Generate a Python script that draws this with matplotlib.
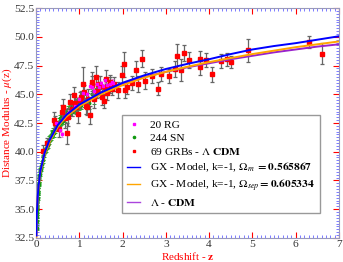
import matplotlib
matplotlib.use("Agg")
from matplotlib import pyplot as plt
from matplotlib.ticker import MultipleLocator

plt.rcParams['font.family'] = ['Liberation Serif', 'DejaVu Serif']
plt.rcParams['mathtext.fontset'] = 'stix'

# model curves
z_model = [0.008, 0.02, 0.05, 0.1, 0.2, 0.3, 0.5, 0.7, 1.0, 1.5, 2.0, 2.5, 3.0,
           3.5, 4.0, 4.5, 5.0, 5.5, 6.0, 6.5, 7.0]
mu_gx_m = [32.7, 34.7, 36.7, 38.3, 39.9, 40.9, 42.3, 43.2, 44.1, 45.15, 46.0,
           46.65, 47.2, 47.65, 48.05, 48.5, 48.9, 49.2, 49.45, 49.75, 50.05]
mu_gx_sep = [32.6, 34.55, 36.55, 38.15, 39.75, 40.75, 42.15, 43.05, 43.95, 45.0,
             45.8, 46.45, 46.95, 47.4, 47.8, 48.15, 48.5, 48.8, 49.1, 49.35, 49.6]
mu_lcdm = [32.7, 34.7, 36.7, 38.3, 39.9, 40.9, 42.3, 43.2, 44.1, 45.15, 45.9,
           46.5, 46.95, 47.35, 47.7, 48.05, 48.35, 48.65, 48.9, 49.15, 49.35]

# 244 SN (a readable subset)
z_sn = [0.012, 0.015, 0.018, 0.02, 0.022, 0.025, 0.028, 0.03, 0.033, 0.036,
        0.04, 0.043, 0.047, 0.05, 0.055, 0.06, 0.065, 0.07, 0.08, 0.09,
        0.1, 0.11, 0.12, 0.13, 0.15, 0.17, 0.19, 0.21, 0.23, 0.25,
        0.27, 0.28, 0.3, 0.31, 0.33, 0.35, 0.36, 0.38, 0.4, 0.41,
        0.43, 0.45, 0.46, 0.48, 0.5, 0.51, 0.53, 0.55, 0.56, 0.58,
        0.6, 0.61, 0.63, 0.65, 0.66, 0.68, 0.7, 0.72, 0.74, 0.76,
        0.78, 0.8, 0.82, 0.84, 0.86, 0.88, 0.9, 0.92, 0.95, 0.97,
        1.0, 1.02, 1.05, 1.08, 1.12, 1.15, 1.2, 1.23, 1.3, 1.34, 1.39]
mu_sn = [33.4, 34.0, 34.3, 34.7, 34.9, 35.1, 35.4, 35.6, 35.7, 36.0,
         36.3, 36.4, 36.6, 36.8, 37.0, 37.2, 37.3, 37.6, 37.9, 38.1,
         38.4, 38.5, 38.8, 38.9, 39.3, 39.5, 39.8, 40.1, 40.2, 40.5,
         40.6, 40.8, 40.9, 41.1, 41.2, 41.3, 41.6, 41.5, 41.8, 41.6,
         42.1, 41.9, 42.3, 42.1, 42.4, 42.2, 42.6, 42.5, 42.9, 42.6,
         42.9, 43.1, 42.7, 43.1, 43.3, 42.9, 43.4, 43.2, 43.6, 43.3,
         43.7, 43.5, 43.9, 43.5, 43.8, 44.1, 43.7, 44.2, 43.9, 44.3,
         44.0, 44.4, 44.1, 44.6, 44.3, 44.5, 44.7, 44.2, 45.0, 44.6, 45.1]
err_sn = [0.2, 0.2, 0.2, 0.2, 0.2, 0.2, 0.2, 0.2, 0.2, 0.2,
          0.2, 0.2, 0.2, 0.2, 0.2, 0.2, 0.2, 0.2, 0.2, 0.2,
          0.2, 0.2, 0.25, 0.25, 0.25, 0.25, 0.25, 0.25, 0.25, 0.25,
          0.25, 0.25, 0.25, 0.25, 0.25, 0.25, 0.25, 0.3, 0.3, 0.3,
          0.3, 0.3, 0.3, 0.3, 0.3, 0.3, 0.3, 0.3, 0.3, 0.3,
          0.3, 0.3, 0.3, 0.3, 0.3, 0.3, 0.35, 0.35, 0.35, 0.35,
          0.35, 0.35, 0.35, 0.35, 0.35, 0.35, 0.35, 0.35, 0.4, 0.4,
          0.4, 0.4, 0.4, 0.4, 0.4, 0.4, 0.45, 0.45, 0.45, 0.45, 0.45]

# 20 RG
z_rg = [0.46, 0.55, 0.59, 0.75, 0.9, 1.0, 1.09, 1.18, 1.25, 1.29,
        1.35, 1.4, 1.45, 1.5, 1.55, 1.59, 1.65, 1.7, 1.75, 1.79]
mu_rg = [42.5, 41.9, 41.5, 43.4, 44.0, 44.6, 45.1, 45.0, 45.75, 45.66,
         45.3, 45.9, 45.6, 46.0, 45.7, 46.24, 45.8, 45.9, 46.1, 46.0]
err_rg = [0.2, 0.2, 0.2, 0.2, 0.2, 0.2, 0.2, 0.2, 0.2, 0.2,
          0.2, 0.2, 0.2, 0.2, 0.2, 0.3, 0.2, 0.2, 0.2, 0.3]

# 69 GRBs
z_grb = [0.17, 0.25, 0.42, 0.45, 0.6, 0.67, 0.72, 0.79, 0.83, 0.9,
         0.98, 1.05, 1.09, 1.15, 1.2, 1.25, 1.29, 1.3, 1.35, 1.4,
         1.44, 1.48, 1.52, 1.57, 1.62, 1.65, 1.7, 1.76, 1.8, 1.9,
         1.98, 2.03, 2.06, 2.11, 2.21, 2.31, 2.36, 2.46, 2.51, 2.67,
         2.82, 2.9, 3.08, 3.21, 3.25, 3.36, 3.42, 3.53, 3.79, 3.8,
         3.94, 4.06, 4.28, 4.42, 4.5, 4.9, 6.3, 6.61, 0.52, 0.63,
         0.75, 0.87, 0.93, 1.02, 1.12, 1.18, 1.38, 1.6, 1.72]
mu_grb = [40.1, 40.8, 42.8, 42.5, 43.5, 42.9, 41.6, 44.35, 43.7, 44.2,
          43.3, 44.8, 45.9, 44.0, 44.6, 43.2, 45.8, 46.1, 44.6, 45.3,
          45.9, 45.7, 44.8, 44.4, 46.3, 45.1, 45.8, 45.5, 45.9, 45.4,
          46.65, 47.6, 45.4, 45.6, 45.95, 47.1, 45.9, 48.1, 46.2, 46.6,
          45.5, 46.8, 46.6, 47.2, 48.3, 47.1, 48.6, 48.0, 48.1, 47.4,
          48.0, 46.75, 47.9, 48.05, 47.8, 48.85, 49.55, 48.55, 42.0, 43.9,
          43.0, 44.9, 43.9, 44.5, 45.2, 43.9, 46.5, 45.6, 46.1]
err_grb = [0.45, 0.4, 0.7, 0.6, 0.6, 0.8, 0.9, 0.7, 0.6, 0.6,
           0.8, 0.5, 1.5, 0.7, 0.9, 0.8, 0.8, 0.8, 0.8, 0.6,
           0.7, 0.9, 0.7, 0.6, 0.8, 0.6, 0.7, 0.6, 0.6, 0.7,
           0.8, 1.1, 0.7, 0.6, 0.6, 0.8, 0.7, 0.75, 0.7, 0.6,
           0.6, 0.6, 0.6, 0.7, 1.1, 0.95, 0.7, 0.7, 0.7, 0.7,
           0.6, 0.65, 0.6, 0.55, 0.5, 1.0, 0.55, 0.9, 0.7, 0.7,
           0.8, 0.7, 0.6, 0.7, 0.6, 0.7, 1.0, 0.7, 0.6]

fig = plt.figure(figsize=(3.43, 2.62), dpi=100)
ax = fig.add_axes([0.105, 0.092, 0.883, 0.877])

ax.errorbar(z_sn, mu_sn, yerr=err_sn, fmt='o', color='#119911', ms=1.8,
            ecolor='#33aa33', elinewidth=0.7, capsize=1.2, capthick=0.7, zorder=2)
ax.errorbar(z_grb, mu_grb, yerr=err_grb, fmt='s', color='red', ms=3,
            ecolor='#666666', elinewidth=0.9, capsize=1.6, capthick=0.9, zorder=3)
ax.errorbar(z_rg, mu_rg, yerr=err_rg, fmt='s', color='magenta', ms=2,
            ecolor='#dd77dd', elinewidth=0.5, capsize=0.8, capthick=0.5, zorder=3)

ax.plot(z_model, mu_lcdm, color='#9922cc', lw=1.4, zorder=4)
ax.plot(z_model, mu_gx_sep, color='orange', lw=1.4, zorder=4)
ax.plot(z_model, mu_gx_m, color='blue', lw=1.4, zorder=4)

# legend handles
h_rg, = ax.plot([], [], 's', color='magenta', ms=2)
h_sn, = ax.plot([], [], 'o', color='#119911', ms=1.6)
h_grb, = ax.plot([], [], 's', color='red', ms=2)
h_m, = ax.plot([], [], color='blue', lw=1)
h_sep, = ax.plot([], [], color='orange', lw=1)
h_l, = ax.plot([], [], color='#aa44dd', lw=1)
leg = ax.legend([h_rg, h_sn, h_grb, h_m, h_sep, h_l],
                ['20 RG', '244 SN', r'69 GRBs - $\Lambda$ $\mathbf{CDM}$',
                 r'GX - Model, k=-1, $\Omega_{m}$$\mathbf{\ = 0.565867}$',
                 r'GX - Model, k=-1, $\Omega_{sep}$$\mathbf{= 0.605334}$',
                 r'$\Lambda$ - $\mathbf{CDM}$'],
                loc='upper left', bbox_to_anchor=(0.285, 0.537),
                fontsize=8.2, frameon=True, fancybox=False, framealpha=1,
                edgecolor='#999999', handlelength=1.1, handletextpad=0.9,
                labelspacing=0.3, borderpad=0.45, borderaxespad=0)
leg.get_frame().set_linewidth(1.0)

ax.set_xlim(0, 7)
ax.set_ylim(32.5, 52.5)
ax.xaxis.set_major_locator(MultipleLocator(1))
ax.xaxis.set_minor_locator(MultipleLocator(0.1))
ax.yaxis.set_major_locator(MultipleLocator(2.5))
ax.yaxis.set_minor_locator(MultipleLocator(0.25))
ax.tick_params(which='both', direction='in', top=True, right=True,
               labelsize=8.2, pad=1.2, labelcolor='#333333')
ax.tick_params(which='major', color='red', length=4, width=0.8)
ax.tick_params(which='minor', color='#6666ff', length=2, width=0.6)
for s in ax.spines.values():
    s.set_color('#9999bb')
    s.set_linewidth(0.8)

ax.set_xlabel(r'Redshift - $\mathbf{z}$', color='red', fontsize=8)
ax.set_ylabel(r'Distance Modulus - $\mu$(z)', color='red', fontsize=8)
ax.xaxis.set_label_coords(0.5, -0.052)
ax.yaxis.set_label_coords(-0.072, 0.5)

fig.savefig('out.png', dpi=100)
